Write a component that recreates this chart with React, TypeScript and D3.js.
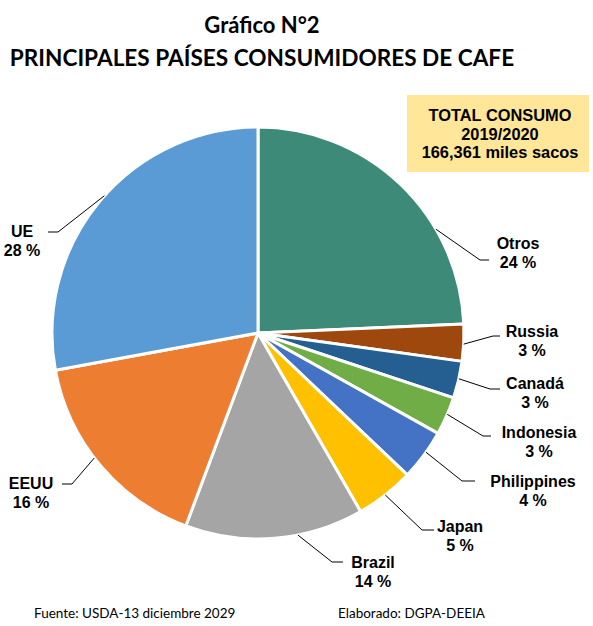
import React from 'react'
import * as d3 from 'd3'

// consumo de cafe 2019/2020, participacion (%)
const countries = ['Otros', 'Russia', 'Canadá', 'Indonesia', 'Philippines', 'Japan', 'Brazil', 'EEUU', 'UE']
const shares = [24.3, 2.9, 2.9, 3.0, 4.0, 4.6, 14.0, 16.4, 27.9]
const shareLabels = ['24 %', '3 %', '3 %', '3 %', '4 %', '5 %', '14 %', '16 %', '28 %']
const sliceColors = ['#3E8A78', '#9E480E', '#255E91', '#70AD47', '#4472C4', '#FFC000', '#A5A5A5', '#ED7D31', '#5B9BD5']

const titleLines = ['Gráfico N°2', 'PRINCIPALES PAÍSES CONSUMIDORES DE CAFE']
const totalLines = ['TOTAL CONSUMO', '2019/2020', '166,361 miles sacos']
const sourceText = 'Fuente: USDA-13 diciembre 2029'
const madeByText = 'Elaborado: DGPA-DEEIA'

// label placement (leader elbow, tail end, text centre/baseline, angle nudge in deg)
const labelLayout = [
    { nudge: 16, elbow: [480, 260], tail: 489, tx: 518, ty: 249 },
    { nudge: 0.4, elbow: [493, 336], tail: 500, tx: 532, ty: 337 },
    { nudge: -0.3, elbow: [490, 389], tail: 500, tx: 535, ty: 389 },
    { nudge: -0.5, elbow: [483, 436], tail: 491, tx: 539, ty: 438 },
    { nudge: -1, elbow: [462, 481], tail: 475, tx: 533, ty: 487 },
    { nudge: 0, elbow: [422, 530], tail: 434, tx: 460, ty: 532 },
    { nudge: -6.5, elbow: [332, 562], tail: 343, tx: 373, ty: 568 },
    { nudge: 2.6, elbow: [72, 484], tail: 62, tx: 31, ty: 489 },
    { nudge: 2, elbow: [58, 232], tail: 48, tx: 22, ty: 237 }
]

const W = 593
const H = 626
const cx = 258
const cy = 333
const R = 206
const font = 'Lato, "Noto Sans", sans-serif'
const labelFont = '"Liberation Sans", Arial, sans-serif'

const App: React.FC = () => {
    const pie = d3
        .pie<number>()
        .sort(null)
        .value((d) => d)
    const arcs = pie(shares)
    const arc = d3
        .arc<d3.PieArcDatum<number>>()
        .innerRadius(0)
        .outerRadius(R)

    const edge = (a: number) => [cx + R * Math.sin(a), cy - R * Math.cos(a)]

    return (
        <svg width={W} height={H} style={{ display: 'block', position: 'absolute', left: 0, top: 0 }}>
            <rect width={W} height={H} fill='#fff' />
            <text x={262} y={33} textAnchor='middle' fontFamily={font} fontWeight='bold' fontSize={22}>
                {titleLines[0]}
            </text>
            <text x={262} y={66} textAnchor='middle' fontFamily={font} fontWeight='bold' fontSize={22.6}>
                {titleLines[1]}
            </text>

            <g transform={`translate(${cx},${cy})`}>
                {arcs.map((d, i) => (
                    <path
                        key={countries[i]}
                        d={arc(d) as string}
                        fill={sliceColors[i]}
                        stroke='#fff'
                        strokeWidth={3}
                        strokeLinejoin='round'
                    />
                ))}
            </g>

            <g className='labels'>
                {arcs.map((d, i) => {
                    const l = labelLayout[i]
                    const mid = (d.startAngle + d.endAngle) / 2 + (l.nudge * Math.PI) / 180
                    const [sx, sy] = edge(mid)
                    return (
                        <g key={countries[i]}>
                            <polyline
                                points={`${sx},${sy} ${l.elbow[0]},${l.elbow[1]} ${l.tail},${l.elbow[1]}`}
                                fill='none'
                                stroke='#000'
                                strokeWidth={1}
                            />
                            <text x={l.tx} y={l.ty} textAnchor='middle' fontFamily={labelFont} fontWeight='bold' fontSize={16} fill='#000'>
                                {countries[i]}
                            </text>
                            <text x={l.tx} y={l.ty + 18.5} textAnchor='middle' fontFamily={labelFont} fontWeight='bold' fontSize={16} fill='#000'>
                                {shareLabels[i]}
                            </text>
                        </g>
                    )
                })}
            </g>

            <rect x={407} y={95} width={182} height={77} fill='#FFE699' />
            {totalLines.map((t, i) => (
                <text
                    key={t}
                    x={500}
                    y={121 + i * 18.5}
                    textAnchor='middle'
                    fontFamily={labelFont}
                    fontWeight='bold'
                    fontSize={16.4}
                    fill='#000'
                >
                    {t}
                </text>
            ))}

            <text x={34} y={618} fontFamily={font} fontSize={13.5} fill='#000'>{sourceText}</text>
            <text x={338} y={618} fontFamily={font} fontSize={13.5} fill='#000'>{madeByText}</text>
        </svg>
    )
}

export default App
